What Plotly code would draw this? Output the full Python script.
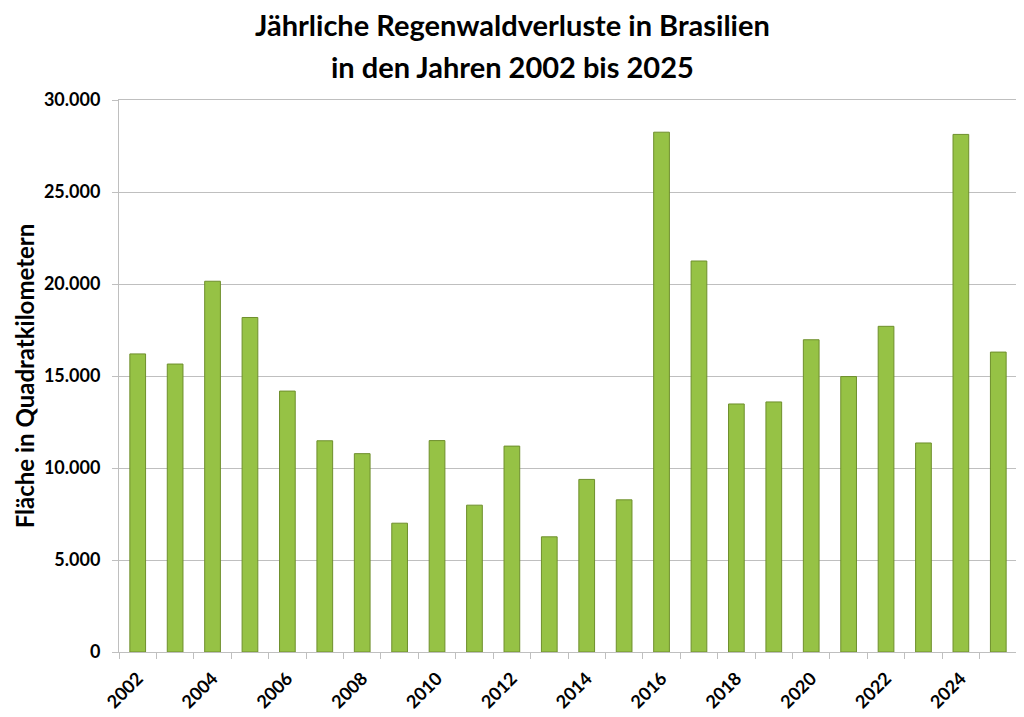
import plotly.graph_objects as go

years = [str(y) for y in range(2002, 2026)]
flaeche = [16200, 15650, 20150, 18180, 14180, 11480, 10780, 7000, 11490, 7980,
           11190, 6260, 9380, 8270, 28250, 21250, 13480, 13590, 16970, 14970,
           17700, 11360, 28130, 16300]
tick_labels = [y if int(y) % 2 == 0 else "" for y in years]
y_ticks = [0, 5000, 10000, 15000, 20000, 25000, 30000]

title_lines = ["Jährliche Regenwaldverluste in Brasilien", "in den Jahren 2002 bis 2025"]

font = "Lato"
grid = "#bfbfbf"

fig = go.Figure()
fig.add_trace(go.Bar(
    x=years, y=flaeche,
    marker=dict(color="#96c245", line=dict(color="#6e8f2c", width=1)),
    showlegend=False,
))

# the page has an 8px body margin, so margins are shifted to compensate
fig.update_layout(
    width=1024, height=717,
    margin=dict(l=111, r=15, t=92, b=73),
    paper_bgcolor="white", plot_bgcolor="white",
    separators=",.",
    bargap=0.58,
    font=dict(family=font, color="black"),
    annotations=[
        dict(text="<b>%s</b>" % title_lines[0], x=0.438, y=1.136, xref="paper", yref="paper",
             xanchor="center", yanchor="middle", showarrow=False, font=dict(size=29, family=font)),
        dict(text="<b>%s</b>" % title_lines[1], x=0.438, y=1.061, xref="paper", yref="paper",
             xanchor="center", yanchor="middle", showarrow=False, font=dict(size=29, family=font)),
    ],
)

fig.update_xaxes(
    type="category", tickmode="array", tickvals=years, ticktext=tick_labels,
    tickson="boundaries", ticks="outside", ticklen=6, tickcolor=grid,
    tickangle=-45, tickfont=dict(size=18, family=font, weight="bold"),
    ticklabelstandoff=8,
    showline=True, linecolor=grid, mirror=True, showgrid=False,
)
fig.update_yaxes(
    range=[0, 30000], tickmode="array", tickvals=y_ticks, tickformat=",d",
    ticks="outside", ticklen=6, tickcolor=grid,
    tickfont=dict(size=18, family=font, weight="bold"),
    ticklabelstandoff=8,
    showgrid=True, gridcolor=grid, gridwidth=1,
    showline=True, linecolor=grid, mirror=True, zeroline=False,
    title=dict(text="<b>Fläche in Quadratkilometern</b>", font=dict(size=24, family=font), standoff=2),
)

fig.write_html("out.html")
